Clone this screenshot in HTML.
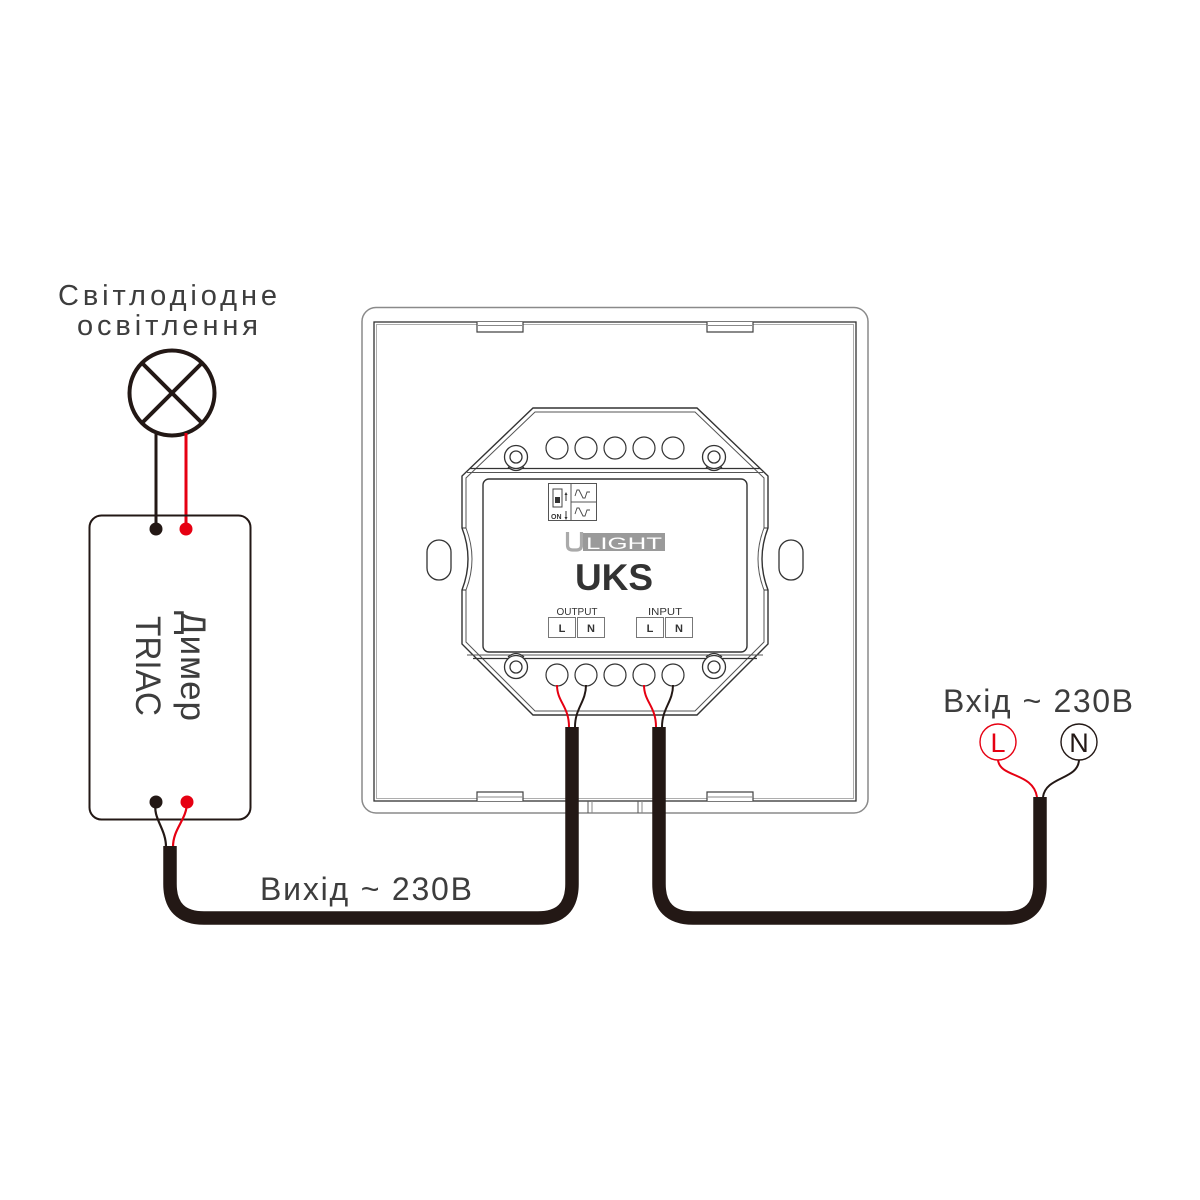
<!DOCTYPE html>
<html>
<head>
<meta charset="utf-8">
<style>
  html,body{margin:0;padding:0;background:#fff;}
  svg{display:block;}
  text{font-family:"Liberation Sans","DejaVu Sans",sans-serif;}
</style>
</head>
<body>
<svg width="1200" height="1200" viewBox="0 0 1200 1200" xmlns="http://www.w3.org/2000/svg">
  <rect width="1200" height="1200" fill="#fff"/>

  <!-- ===== LED lighting label ===== -->
  <text x="58" y="305" font-size="29" fill="#3d3d3d" textLength="219" lengthAdjust="spacing">Світлодіодне</text>
  <text x="77" y="335" font-size="29" fill="#3d3d3d" textLength="181" lengthAdjust="spacing">освітлення</text>

  <!-- lamp -->
  <circle cx="172" cy="393" r="42.5" fill="none" stroke="#231815" stroke-width="4"/>
  <line x1="142" y1="363" x2="202" y2="423" stroke="#231815" stroke-width="4"/>
  <line x1="202" y1="363" x2="142" y2="423" stroke="#231815" stroke-width="4"/>

  <!-- lamp wires -->
  <line x1="156" y1="432" x2="156" y2="529" stroke="#231815" stroke-width="3"/>
  <line x1="186" y1="433" x2="186" y2="529" stroke="#e60012" stroke-width="3"/>

  <!-- ===== Dimmer box ===== -->
  <rect x="89.5" y="515.5" width="161" height="304" rx="12" fill="none" stroke="#231815" stroke-width="2"/>
  <circle cx="156" cy="529" r="6.5" fill="#231815"/>
  <circle cx="186" cy="529" r="6.5" fill="#e60012"/>
  <circle cx="156" cy="802" r="6.5" fill="#231815"/>
  <circle cx="187" cy="802" r="6.5" fill="#e60012"/>
  <g transform="translate(181,666) rotate(90)">
    <text x="0" y="0" font-size="35" fill="#3d3d3d" text-anchor="middle" textLength="110" lengthAdjust="spacing">Димер</text>
  </g>
  <g transform="translate(136,666) rotate(90)">
    <text x="0" y="0" font-size="35" fill="#3d3d3d" text-anchor="middle" textLength="100" lengthAdjust="spacingAndGlyphs">TRIAC</text>
  </g>

  <!-- dimmer bottom wires -->
  <path d="M156,802 C152,818 166,828 166,847" fill="none" stroke="#231815" stroke-width="2.2"/>
  <path d="M187,802 C187,820 173,828 173,847" fill="none" stroke="#e60012" stroke-width="2.2"/>

  <!-- ===== Wall plate ===== -->
  <rect x="362" y="307.5" width="506" height="505.5" rx="14" fill="none" stroke="#8a8a8a" stroke-width="1.5"/>
  <rect x="374" y="322" width="482" height="479" fill="none" stroke="#333" stroke-width="1.3"/>
  <rect x="376.5" y="324.5" width="477" height="474" fill="none" stroke="#999" stroke-width="0.8"/>
  <!-- top tabs -->
  <path d="M477,322 V332 H523 V322" fill="#fff" stroke="#444" stroke-width="1.2"/>
  <line x1="478" y1="325.5" x2="522" y2="325.5" stroke="#888" stroke-width="1"/>
  <path d="M707,322 V332 H753 V322" fill="#fff" stroke="#444" stroke-width="1.2"/>
  <line x1="708" y1="325.5" x2="752" y2="325.5" stroke="#888" stroke-width="1"/>
  <!-- bottom tabs -->
  <path d="M477,801 V792 H523 V801" fill="#fff" stroke="#444" stroke-width="1.2"/>
  <line x1="478" y1="797" x2="522" y2="797" stroke="#888" stroke-width="1"/>
  <path d="M707,801 V792 H753 V801" fill="#fff" stroke="#444" stroke-width="1.2"/>
  <line x1="708" y1="797" x2="752" y2="797" stroke="#888" stroke-width="1"/>
  <!-- bottom notch -->
  <line x1="588" y1="801" x2="588" y2="813" stroke="#555" stroke-width="1"/>
  <line x1="592" y1="801" x2="592" y2="813" stroke="#888" stroke-width="1"/>
  <line x1="638" y1="801" x2="638" y2="813" stroke="#555" stroke-width="1"/>
  <line x1="642" y1="801" x2="642" y2="813" stroke="#888" stroke-width="1"/>
  <!-- side slots -->
  <rect x="427" y="540" width="24" height="40" rx="12" fill="none" stroke="#333" stroke-width="1.3"/>
  <rect x="779" y="540" width="24" height="40" rx="12" fill="none" stroke="#333" stroke-width="1.3"/>

  <!-- ===== Module ===== -->
  <path d="M533,408 H697 L768,476 V528 Q756,559 768,590 V644 L697,715 H533 L462,644 V590 Q474,559 462,528 V476 Z" fill="#fff" stroke="#333" stroke-width="1.4"/>
  <path d="M535,412 H695 L764,478 V528 Q752,559 764,590 V642 L695,711 H535 L466,642 V590 Q478,559 466,528 V478 Z" fill="none" stroke="#555" stroke-width="1"/>
  <line x1="462" y1="528" x2="466" y2="528" stroke="#333" stroke-width="1"/>
  <line x1="462" y1="590" x2="466" y2="590" stroke="#333" stroke-width="1"/>
  <line x1="764" y1="528" x2="768" y2="528" stroke="#333" stroke-width="1"/>
  <line x1="764" y1="590" x2="768" y2="590" stroke="#333" stroke-width="1"/>
  <!-- band lines -->
  <line x1="470" y1="468.5" x2="760" y2="468.5" stroke="#333" stroke-width="1.2"/>
  <line x1="467" y1="472.5" x2="763" y2="472.5" stroke="#555" stroke-width="1"/>
  <line x1="467" y1="655" x2="763" y2="655" stroke="#555" stroke-width="1"/>
  <line x1="473" y1="658.5" x2="757" y2="658.5" stroke="#333" stroke-width="1.2"/>

  <!-- label panel -->
  <rect x="483" y="479" width="264" height="173" rx="6" fill="#fff" stroke="#333" stroke-width="1.4"/>

  <!-- screws -->
  <g fill="#fff" stroke="#333" stroke-width="1.3">
    <path d="M508,467 Q516,474 524,467"/>
    <path d="M706,467 Q714,474 722,467"/>
    <path d="M508,657 Q516,650 524,657"/>
    <path d="M706,657 Q714,650 722,657"/>
    <circle cx="516" cy="457" r="11.5"/><circle cx="516" cy="457" r="6"/>
    <circle cx="714" cy="457" r="11.5"/><circle cx="714" cy="457" r="6"/>
    <circle cx="516" cy="667" r="11.5"/><circle cx="516" cy="667" r="6"/>
    <circle cx="714" cy="667" r="11.5"/><circle cx="714" cy="667" r="6"/>
  </g>

  <!-- terminal holes -->
  <g fill="#fff" stroke="#333" stroke-width="1.2">
    <circle cx="557" cy="448" r="11"/>
    <circle cx="586" cy="448" r="11"/>
    <circle cx="615" cy="448" r="11"/>
    <circle cx="644" cy="448" r="11"/>
    <circle cx="673" cy="448" r="11"/>
    <circle cx="557" cy="675" r="11"/>
    <circle cx="586" cy="675" r="11"/>
    <circle cx="615" cy="675" r="11"/>
    <circle cx="644" cy="675" r="11"/>
    <circle cx="673" cy="675" r="11"/>
  </g>

  <!-- switch icon -->
  <rect x="548.5" y="483.5" width="48" height="37" fill="#fff" stroke="#555" stroke-width="1"/>
  <line x1="571" y1="483.5" x2="571" y2="520.5" stroke="#555" stroke-width="1"/>
  <line x1="571" y1="502" x2="596.5" y2="502" stroke="#555" stroke-width="1"/>
  <rect x="553" y="489" width="9" height="18" fill="#fff" stroke="#444" stroke-width="1"/>
  <rect x="555" y="497" width="5" height="6" fill="#333"/>
  <line x1="566" y1="493" x2="566" y2="501" stroke="#333" stroke-width="1"/>
  <path d="M564.5,495 L566,492 L567.5,495 Z" fill="#333"/>
  <line x1="566" y1="511" x2="566" y2="519" stroke="#333" stroke-width="1"/>
  <path d="M564.5,517 L566,520 L567.5,517 Z" fill="#333"/>
  <text x="551" y="519" font-size="7" font-weight="bold" fill="#333">ON</text>
  <path d="M575,496 L577,490 L579,490 L581,494 L583,498 L585,498 L587,492 L590,492" fill="none" stroke="#444" stroke-width="0.9"/>
  <path d="M575,514 L577,508 L579,508 L581,512 L583,516 L585,516 L587,510 L590,510" fill="none" stroke="#444" stroke-width="0.9"/>

  <!-- ULIGHT logo -->
  <path d="M567.5,532 V545 Q567.5,550 572.5,550 H576.5 Q581.5,550 581.5,545 V532" fill="none" stroke="#aaaaaa" stroke-width="3.2"/>
  <rect x="583" y="533" width="82" height="18" fill="#9a9a9a"/>
  <text x="624" y="549" font-size="17" fill="#fff" text-anchor="middle" textLength="76" lengthAdjust="spacingAndGlyphs">LIGHT</text>

  <!-- UKS -->
  <text x="614" y="590" font-size="37" font-weight="bold" fill="#333" text-anchor="middle">UKS</text>

  <!-- OUTPUT / INPUT -->
  <text x="577" y="615" font-size="10" fill="#333" text-anchor="middle" textLength="41" lengthAdjust="spacingAndGlyphs">OUTPUT</text>
  <text x="665" y="615" font-size="10" fill="#333" text-anchor="middle" textLength="34" lengthAdjust="spacingAndGlyphs">INPUT</text>
  <g fill="#fff" stroke="#777" stroke-width="1">
    <rect x="548.5" y="617.5" width="27" height="20"/>
    <rect x="577.5" y="617.5" width="27" height="20"/>
    <rect x="636.5" y="617.5" width="27" height="20"/>
    <rect x="665.5" y="617.5" width="27" height="20"/>
  </g>
  <g font-size="11" font-weight="bold" fill="#333" text-anchor="middle">
    <text x="562" y="632">L</text>
    <text x="591" y="632">N</text>
    <text x="650" y="632">L</text>
    <text x="679" y="632">N</text>
  </g>

  <!-- module wires -->
  <path d="M557,685 C557,702 569,706 569,727" fill="none" stroke="#e60012" stroke-width="2"/>
  <path d="M586,685 C586,702 575,708 575,727" fill="none" stroke="#231815" stroke-width="2"/>
  <path d="M644,685 C644,702 656,706 656,727" fill="none" stroke="#e60012" stroke-width="2"/>
  <path d="M673,685 C673,702 662,708 662,727" fill="none" stroke="#231815" stroke-width="2"/>

  <!-- ===== Cables ===== -->
  <path d="M170,846 V884 Q170,918 204,918 H538 Q572,918 572,884 V727" fill="none" stroke="#231815" stroke-width="13.5"/>
  <path d="M659,727 V884 Q659,918 693,918 H1006 Q1040,918 1040,884 V797" fill="none" stroke="#231815" stroke-width="13.5"/>

  <!-- output label -->
  <text x="260" y="900" font-size="32" fill="#3d3d3d" textLength="212" lengthAdjust="spacing">Вихід ~ 230В</text>

  <!-- input label and L/N -->
  <text x="943" y="712" font-size="32" fill="#3d3d3d" textLength="190" lengthAdjust="spacing">Вхід ~ 230В</text>
  <path d="M1037,797 C1033,772 1000,778 998,760" fill="none" stroke="#e60012" stroke-width="2"/>
  <path d="M1043,797 C1046,776 1078,780 1079,760" fill="none" stroke="#231815" stroke-width="2"/>
  <circle cx="998" cy="742" r="18" fill="#fff" stroke="#e60012" stroke-width="1.4"/>
  <circle cx="1079" cy="742" r="18" fill="#fff" stroke="#231815" stroke-width="1.4"/>
  <text x="998" y="752" font-size="27" fill="#e60012" text-anchor="middle">L</text>
  <text x="1079" y="752" font-size="27" fill="#231815" text-anchor="middle">N</text>
</svg>
</body>
</html>
